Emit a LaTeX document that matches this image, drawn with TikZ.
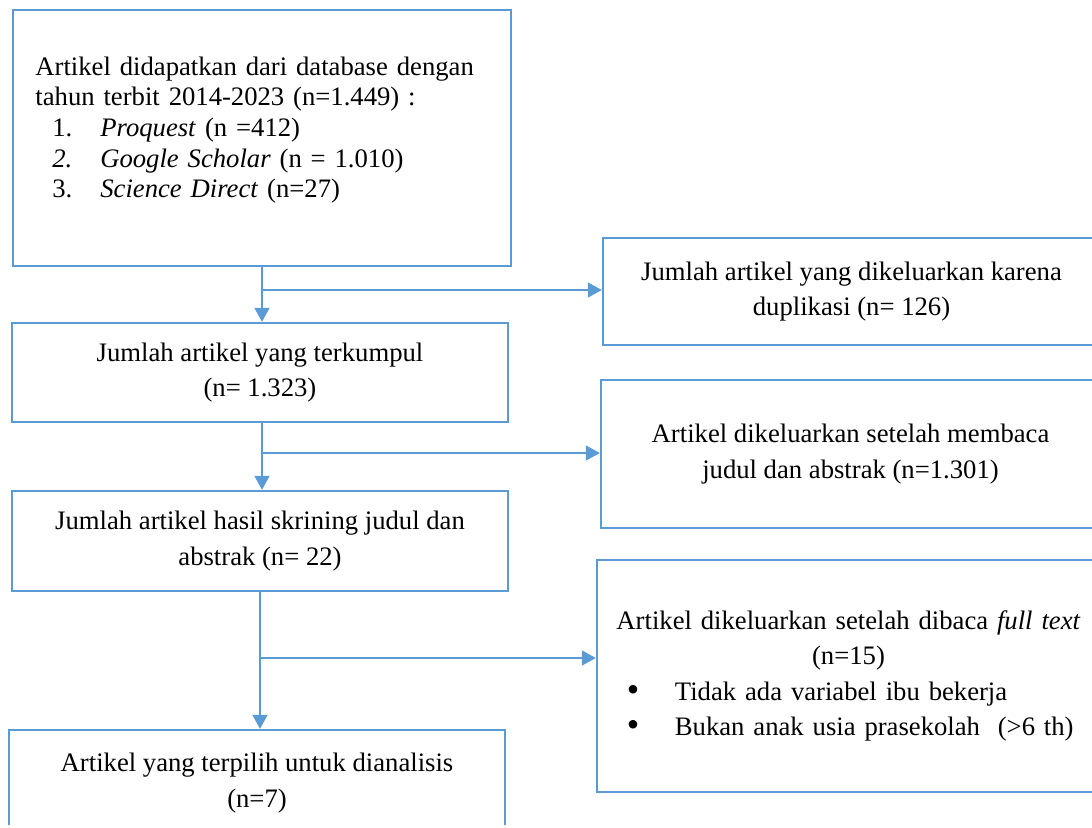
\documentclass[tikz,border=0pt]{standalone}
\usepackage{fontspec}
\setmainfont{Liberation Serif}
\usetikzlibrary{arrows.meta}
\definecolor{boxblue}{HTML}{5B9BD5}
\newcommand{\bigbul}{\raisebox{-0.6pt}{\fontsize{16}{16}\selectfont\textbullet}}
\begin{document}
\begin{tikzpicture}[x=0.45pt,y=-0.45pt,
  box/.style={draw=boxblue, line width=1.1pt, rectangle, inner sep=0pt, align=center,
    font=\fontsize{12}{15.9}\selectfont},
  conn/.style={draw=boxblue, line width=0.6pt},
  arr/.style={conn, -{Triangle[length=6.3pt,width=6.8pt]}}]
\useasboundingbox (0,0) rectangle (1092,827);
\clip (0,0) rectangle (1092,824.5);
% left column
\node[box, minimum width=498*0.45pt, minimum height=256*0.45pt] (B1) at (262,138) {};
\node[anchor=base west, inner sep=0pt, text width=454*0.45pt, align=left,
  font=\fontsize{12}{13.8}\selectfont] (B1t) at (35,75) {%
  \makebox[\linewidth][s]{Artikel didapatkan dari database dengan}\\
  tahun terbit 2014-2023 (n=1.449) :\\
  \hspace*{7.6pt}\makebox[21.6pt][l]{1.}\textit{Proquest} (n =412)\\
  \hspace*{7.6pt}\makebox[21.6pt][l]{\textit{2.}}\textit{Google Scholar} (n = 1.010)\\
  \hspace*{7.6pt}\makebox[21.6pt][l]{3.}\textit{Science Direct} (n=27)};
\node[box, minimum width=496*0.45pt, minimum height=99*0.45pt] (B2) at (260,372.5)
  {Jumlah artikel yang terkumpul\\(n= 1.323)};
\node[box, minimum width=496*0.45pt, minimum height=100*0.45pt] (B3) at (260,541)
  {Jumlah artikel hasil skrining judul dan\\abstrak (n= 22)};
\node[box, minimum width=496*0.45pt, minimum height=106*0.45pt] (B4) at (257,783)
  {Artikel yang terpilih untuk dianalisis\\(n=7)};
% right column
\node[box, minimum width=497*0.45pt, minimum height=107*0.45pt] (R1) at (851.5,291.5)
  {Jumlah artikel yang dikeluarkan karena\\duplikasi (n= 126)};
\node[box, minimum width=499*0.45pt, minimum height=148*0.45pt] (R2) at (850.5,454)
  {Artikel dikeluarkan setelah membaca\\judul dan abstrak (n=1.301)};
\node[box, minimum width=503*0.45pt, minimum height=232*0.45pt, text width=480*0.45pt] (R3) at (848.5,676)
  {Artikel dikeluarkan setelah dibaca \textit{full text}\\
   (n=15)\\
   \makebox[\linewidth][l]{\hspace*{8.3pt}\makebox[21.6pt][l]{\bigbul}Tidak ada variabel ibu bekerja}\\
   \makebox[\linewidth][l]{\hspace*{8.3pt}\makebox[21.6pt][l]{\bigbul}Bukan anak usia prasekolah\ \ (>6 th)}};
% connectors
\coordinate (c1) at (262,290);
\coordinate (c2) at (262,453);
\coordinate (c3) at (260,658);
\draw[arr] (c1 |- B1.south) -- (c1 |- B2.north);
\draw[arr] (c1) -- (c1 -| R1.west);
\draw[arr] (c2 |- B2.south) -- (c2 |- B3.north);
\draw[arr] (c2) -- (c2 -| R2.west);
\draw[arr] (c3 |- B3.south) -- (c3 |- B4.north);
\draw[arr] (c3) -- (c3 -| R3.west);
\end{tikzpicture}
\end{document}
